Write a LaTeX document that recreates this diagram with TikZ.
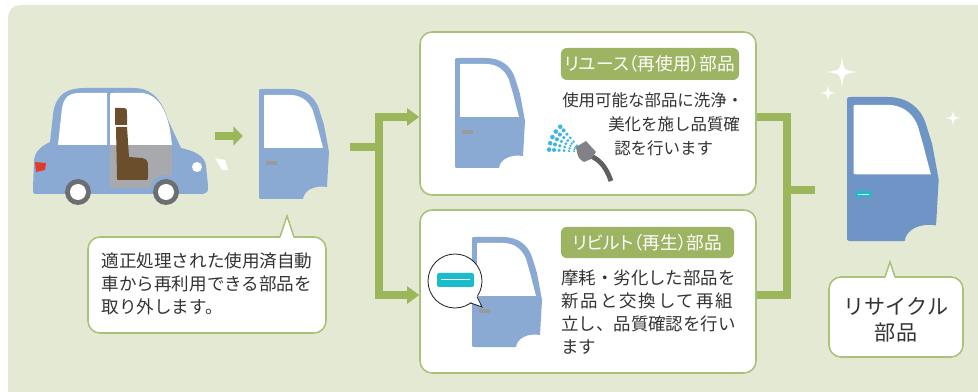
\documentclass[tikz,border=0pt]{standalone}
\usepackage{fontspec}
\setmainfont{Noto Sans CJK JP}
\usetikzlibrary{arrows.meta,fit,calc}

\definecolor{bgpanel}{HTML}{E4E9D3}
\definecolor{lnkgreen}{HTML}{9CB65B}
\definecolor{boxline}{HTML}{A9C27A}
\definecolor{taggreen}{HTML}{9DB463}
\definecolor{partblue}{HTML}{8AAAD4}
\definecolor{newblue}{HTML}{6E95C5}
\definecolor{interior}{HTML}{A8A9AC}
\definecolor{tyre}{HTML}{6D6E71}
\definecolor{seat}{HTML}{6B4E2B}
\definecolor{lamp}{HTML}{E23B2B}
\definecolor{fresh}{HTML}{19BCCB}
\definecolor{spray}{HTML}{3DB5E6}
\definecolor{nozzle}{HTML}{808285}
\definecolor{hose}{HTML}{5F6062}
\definecolor{handle}{HTML}{9A9A9C}
\definecolor{ink}{HTML}{333333}

\tikzset{
  % loose door, drawn 70 x 110 from its top left corner
  pics/door/.style 2 args={code={
    \fill[#1] (0,4) .. controls (0,0) .. (4,0) -- (31,0)
      .. controls (46,0) and (56,8) .. (60,20) -- (65,36) -- (70,63) -- (68,98)
      .. controls (56,96) and (45,101) .. (44,110) -- (4,110)
      .. controls (0,110) .. (0,106) -- cycle;
    \fill[white] (5,8) .. controls (5,6) .. (7,6) -- (31,6)
      .. controls (42,6) and (50,12) .. (54,22) -- (58,36) -- (64,59)
      -- (7,59) .. controls (5,59) .. (5,57) -- cycle;
    \fill[#2] (7,72) rectangle (18,76);
  }},
  pics/sparkle/.style={code={
    \fill[white] (0,-#1) .. controls (0.12*#1,-0.12*#1) .. (#1,0)
      .. controls (0.12*#1,0.12*#1) .. (0,#1)
      .. controls (-0.12*#1,0.12*#1) .. (-#1,0)
      .. controls (-0.12*#1,-0.12*#1) .. cycle;
  }},
}

\begin{document}
\begin{tikzpicture}[x=0.025cm,y=-0.025cm,
    panel/.style={draw=boxline, line width=1.1pt, fill=white, rounded corners=0.3cm, inner sep=0pt},
    tag/.style={fill=taggreen, rounded corners=0.15cm, text=white, inner sep=0pt,
      font=\fontsize{12.6}{14}\selectfont\addfontfeatures{RawFeature=+palt}},
    conn/.style={draw=lnkgreen, line width=0.18cm},
    tip/.style={-{Triangle[length=0.3cm,width=0.42cm]}},
    txt/.style={text=ink, inner sep=0pt, align=left}]
\useasboundingbox (0,0) rectangle (978,392);
\fill[bgpanel, rounded corners=0.3cm] (8,5) rectangle (1000,420);

% the car
\path[save path=\carbody] (38,194) .. controls (33,194) .. (33,188) -- (34,160)
  .. controls (35,150) and (44,145) .. (50,142) -- (53,115)
  .. controls (55,96) and (65,88) .. (85,88) -- (133,88)
  .. controls (152,88) and (162,100) .. (168,120) -- (181,148)
  .. controls (195,151) and (205,156) .. (206,166) -- (208,186)
  .. controls (208,192) .. (203,194) -- cycle;
\fill[partblue, use path=\carbody];
\begin{scope}
  \clip[use path=\carbody];
  \fill[interior] (110,145) rectangle (172,188);
  \fill[partblue] (166,192) circle (17);
\end{scope}
\fill[white] (58,145) -- (107,145) -- (107,93) -- (80,93)
  .. controls (68,93) and (64,98) .. (62,108) -- cycle;
\fill[white] (110,145) -- (110,97) .. controls (110,93) .. (114,93) -- (143,93)
  .. controls (158,95) and (166,110) .. (170,130) -- (172,145) -- cycle;
\fill[seat] (115,108) -- (121,108) .. controls (127,108) .. (127,115) -- (127,125)
  -- (115,125) -- cycle;
\fill[seat] (116,127) -- (127,127) -- (129,157) -- (142,158)
  .. controls (148,160) .. (148,170) -- (148,176) .. controls (148,180) .. (144,180)
  -- (119,180) .. controls (117,180) .. (117,177) -- cycle;
\foreach \wx in {78,166} {
  \fill[tyre] (\wx,192) circle (13);
  \fill[white] (\wx,192) circle (8);
}
\fill[lamp] (35,162) -- (46,163) -- (45,170) -- (36,172) -- cycle;
\fill[white] (197,167) circle (5);
\fill[white] (215,158) -- (225,160) -- (228,170) -- (222,170) -- cycle;

\coordinate (carout) at (215,136);
\coordinate (doorin) at (243,136);
\draw[draw=lnkgreen, line width=0.2cm, -{Triangle[length=0.24cm,width=0.46cm]}] (carout) -- (doorin);

\pic at (259,89) {door={partblue}{handle}};

% callout under the removed door
\node[panel, fit={(88,237) (326,333)}] (pickup) {};
\fill[white] (280,238.5) -- (287,216) -- (294,238.5) -- cycle;
\draw[boxline, line width=1.1pt] (280,237) -- (287,216) -- (294,237);
\node[txt, font=\fontsize{12.5}{16.3}\selectfont] (pickuptxt) at ($(pickup.center)+(0,-1)$)
  {適正処理された使用済自動\\車から再利用できる部品を\\取り外します。};

% reuse and rebuild panels
\node[panel, fit={(420,32) (756,195)}] (reuse) {};
\node[panel, fit={(420,210) (756,373)}] (rebuilt) {};

\node[tag, minimum width=4.45cm, minimum height=0.8cm] (reusetag) at (650,64) {リユース（再使用）部品};
\node[tag, minimum width=4.33cm, minimum height=0.78cm] (rebuilttag) at (647.5,242.5) {リビルト（再生）部品};

\pic at (455,58) {door={partblue}{handle}};
\foreach \a in {132,143,154,165,176}
  \foreach \r in {9,14,19,24,29,34}
    \fill[spray] ({583+\r*cos(\a)},{152-\r*sin(\a)}) circle ({0.6+0.05*\r});
\draw[hose, line width=0.12cm] (591,156) .. controls (602,161) and (607,170) .. (611,181);
\fill[nozzle] (576,147) -- (586,141) -- (596,152) -- (591,159) -- (584,162)
  .. controls (578,158) .. cycle;

\begin{scope}[every node/.style={txt, anchor=west, font=\fontsize{11.7}{14}\selectfont}]
  \node (reusel1) at (562,100) {使用可能な部品に洗浄・};
  \node (reusel2) at (608,124) {美化を施し品質確};
  \node (reusel3) at (614,148) {認を行います};
\end{scope}

\pic at (472,237) {door={partblue}{handle}};
\filldraw[fill=white, draw=black!85, line width=0.6pt] (455,281) circle (27);
\fill[white] (470,302) -- (482,307) -- (477,295) -- cycle;
\draw[black!85, line width=0.6pt] (470.5,303) -- (482,307) -- (477,296.5);
\fill[fresh, rounded corners=0.04cm] (437,273) rectangle (474,287);
\draw[white, line width=0.6pt] (441,279) -- (470,279);

\node[txt, anchor=west, font=\fontsize{12.4}{16.5}\selectfont] (rebuilttxt) at (561,312)
  {摩耗・劣化した部品を\\{\addfontfeatures{LetterSpace=11}新品と交換して再組}\\立し、品質確認を行い\\ます};

% green connectors
\coordinate (src) at (350,147);
\coordinate (fork) at (379,147);
\coordinate (merge) at (787,190);
\coordinate (dst) at (815,190);
\draw[conn] (src) -- (fork);
\draw[conn, tip] (fork) |- ($(reuse.west)+(0,3.5)$);
\draw[conn, tip] (fork) |- ($(rebuilt.west)+(0,3.5)$);
\draw[conn] ($(reuse.east)+(0,3.5)$) -| (merge);
\draw[conn] ($(rebuilt.east)+(0,3.5)$) -| (merge);
\draw[conn] (merge) -- (dst);

% recycled door
\pic[scale=1.31] at (847,97) {door={newblue}{fresh}};
\draw[white, line width=0.5pt] (858,194) -- (869,194);
\pic at (842,72) {sparkle=15};
\pic at (828,93) {sparkle=8};
\pic at (953,118) {sparkle=8};

\node[panel, fit={(829,277) (963,357)}] (recycled) {};
\fill[white] (885,278.5) -- (890,262) -- (895,278.5) -- cycle;
\draw[boxline, line width=1.1pt] (885,277) -- (890,262) -- (895,277);
\node[txt, align=center, font=\fontsize{15}{18.4}\selectfont] (recycledtxt) at ($(recycled.center)+(0,3)$)
  {リサイクル\\部品};
\end{tikzpicture}
\end{document}
